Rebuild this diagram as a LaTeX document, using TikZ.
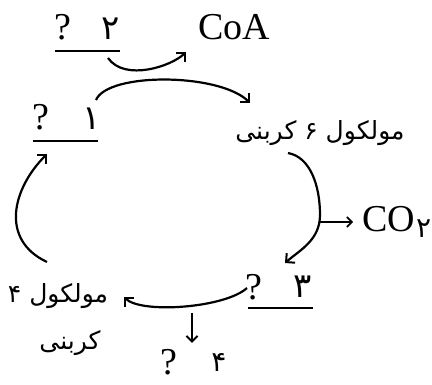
\documentclass[tikz,border=0pt]{standalone}
\usepackage{fontspec}
\setmainfont{Liberation Serif}
\newfontfamily\fa[Script=Arabic]{DejaVu Sans}
\TeXXeTstate=1
\usetikzlibrary{arrows.meta}
\begin{document}
\begin{tikzpicture}[x=1pt,y=-1pt,
  lbl/.style={inner sep=0pt, anchor=base, font=\fontsize{38}{42}\selectfont},
  num/.style={inner sep=0pt, anchor=base, font=\fa\fontsize{34}{40}\selectfont},
  fatext/.style={inner sep=0pt, font=\fa\fontsize{25}{30}\selectfont},
  cyc/.style={line width=2.2pt, -{Straight Barb[angle=90:9pt, line width=2pt]}},
  uline/.style={line width=1.8pt},
  thinarrow/.style={line width=1.4pt, -{Straight Barb[angle=90:7pt, line width=1.6pt]}},
  downarrow/.style={line width=2pt, -{Straight Barb[angle=90:8pt, line width=2pt]}}]
\useasboundingbox (0,0) rectangle (432,385);

% labels
\node[lbl] (q2a) at (63,40) {?};
\node[num] (q2b) at (111,40) {۲};
\draw[uline] (55,51) -- (120,51);
\node[lbl] (coa) at (234,40) {CoA};

\node[lbl] (q1a) at (41,130) {?};
\node[num] (q1b) at (92,130) {۱};
\draw[uline] (33,141) -- (98,141);

\node[fatext] (six) at (320,133) {\beginR مولکول ۶ کربنی\endR};

\node[lbl, anchor=base west] (co) at (362,232) {CO};
\node[num, anchor=base west, font=\fa\fontsize{28}{32}\selectfont] (two) at (416,238) {۲};

\node[lbl] (q3a) at (254,300) {?};
\node[num] (q3b) at (303,298) {۳};
\draw[uline] (248,308) -- (313,308);

\node[lbl] (q4a) at (169,375) {?};
\node[num, font=\fa\fontsize{28}{32}\selectfont] (q4b) at (219,372) {۴};

\node[fatext] (fourA) at (58,296) {\beginR مولکول ۴\endR};
\node[fatext] (fourB) at (70,343) {\beginR کربنی\endR};

% connector end points
\coordinate (s2) at (108,58);   \coordinate (e2) at (186,52);
\coordinate (s1) at (96,100);   \coordinate (e1) at (250,103);
\coordinate (s6) at (288,153);  \coordinate (m6) at (320,215); \coordinate (e6) at (285,263);
\coordinate (c6) at (319,222);
\coordinate (s3) at (247,288);  \coordinate (e3) at (124,297);
\coordinate (s4) at (47,262);   \coordinate (e4) at (47,154);
\coordinate (d1) at (192,313);  \coordinate (d2) at (192,343);

% connectors
\draw[cyc] (s2) .. controls (125,82) and (172,66) .. (e2);
\draw[cyc] (s1) .. controls (108,72) and (220,73) .. (e1);
\draw[cyc] (s6) .. controls (310,157) and (320,185) .. (m6)
                .. controls (320,240) and (300,250) .. (e6);
\draw[thinarrow] (c6) -- ([xshift=-9pt]c6 -| co.west);
\draw[cyc] (s3) .. controls (225,308) and (141,314) .. (e3);
\draw[cyc] (s4) .. controls (0,240) and (12,189) .. (e4);
\draw[downarrow] (d1) -- (d2);
\end{tikzpicture}
\end{document}
